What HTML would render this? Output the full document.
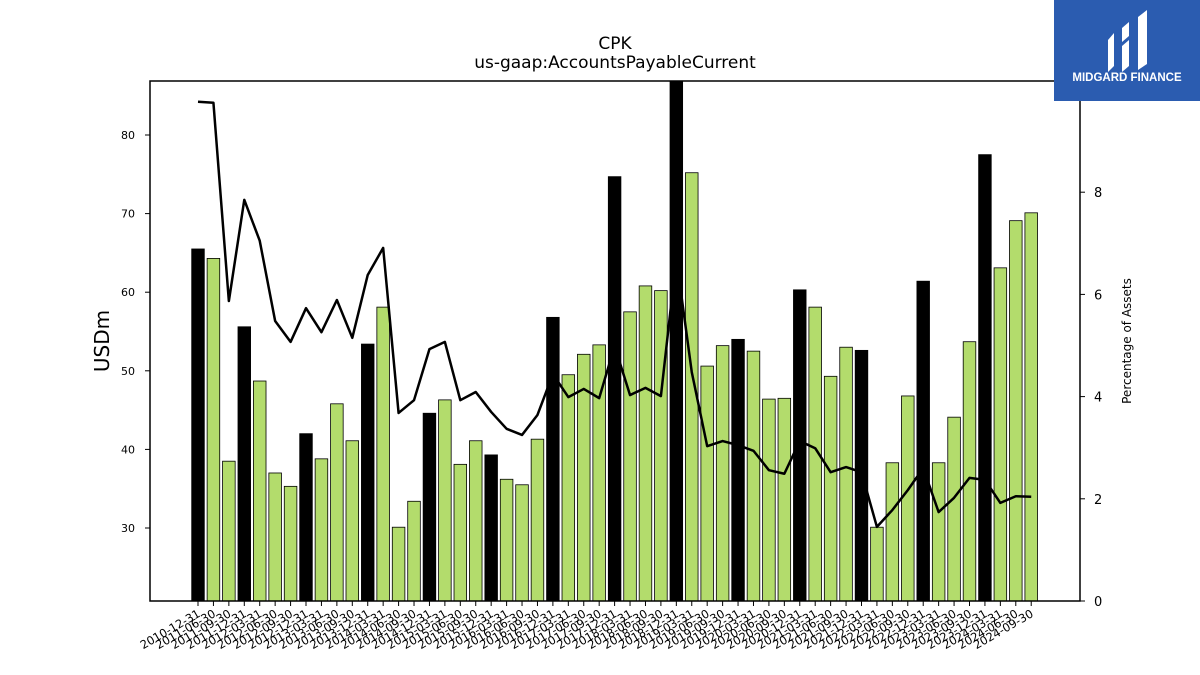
<!DOCTYPE html>
<html><head><meta charset="utf-8"><style>
body{margin:0;background:#fff;}
svg{display:block;font-family:"DejaVu Sans","Liberation Sans",sans-serif;}
</style></head><body>
<svg id="chart" width="1200" height="675" viewBox="0 0 1200 675" xmlns="http://www.w3.org/2000/svg">
<rect width="1200" height="675" fill="#fff"/>
<text x="615" y="49" font-size="17" text-anchor="middle">CPK</text>
<text x="615" y="68" font-size="17" text-anchor="middle">us-gaap:AccountsPayableCurrent</text>
<g id="bars"></g>
<g id="line"></g>
<rect x="150" y="81" width="930" height="520" fill="none" stroke="#000" stroke-width="1.5"/>
<g id="yl"></g>
<g id="yr"></g>
<g id="xa"></g>
<text transform="translate(109,341) rotate(-90)" font-size="20" text-anchor="middle">USDm</text>
<text transform="translate(1131,341) rotate(-90)" font-size="12" text-anchor="middle">Percentage of Assets</text>
<g>
<rect x="1054" y="0" width="146" height="101" fill="#2b5cb0"/>
<path d="M1108 40 L1114 33 L1114 66 L1108 72 Z M1122 28 L1129 22 L1129 36 L1122 42 Z M1122 46 L1129 40 L1129 66 L1122 72 Z M1138 17 L1147 10 L1147 64 L1138 70 Z" fill="#fff"/>
<text x="1127" y="81" font-size="11.5" font-weight="bold" fill="#fff" text-anchor="middle" font-family="Liberation Sans, sans-serif">MIDGARD FINANCE</text>
</g>
</svg>
<script>
const categories=["2010-12-31","2011-06-30","2011-09-30","2011-12-31","2012-03-31","2012-06-30","2012-09-30","2012-12-31","2013-03-31","2013-06-30","2013-09-30","2013-12-31","2014-03-31","2014-06-30","2014-09-30","2014-12-31","2015-03-31","2015-06-30","2015-09-30","2015-12-31","2016-03-31","2016-06-30","2016-09-30","2016-12-31","2017-03-31","2017-06-30","2017-09-30","2017-12-31","2018-03-31","2018-06-30","2018-09-30","2018-12-31","2019-03-31","2019-06-30","2019-09-30","2019-12-31","2020-03-31","2020-06-30","2020-09-30","2020-12-31","2021-03-31","2021-06-30","2021-09-30","2021-12-31","2022-03-31","2022-06-30","2022-09-30","2022-12-31","2023-03-31","2023-06-30","2023-09-30","2023-12-31","2024-03-31","2024-06-30","2024-09-30"];
const payables=[65.5,64.3,38.5,55.6,48.7,37.0,35.3,42.0,38.8,45.8,41.1,53.4,58.1,30.1,33.4,44.6,46.3,38.1,41.1,39.3,36.2,35.5,41.3,56.8,49.5,52.1,53.3,74.7,57.5,60.8,60.2,88.0,75.2,50.6,53.2,54.0,52.5,46.4,46.5,60.3,58.1,49.3,53.0,52.6,30.1,38.3,46.8,61.4,38.3,44.1,53.7,77.5,63.1,69.1,70.1];
const pctAssets=[9.77,9.75,5.87,7.85,7.05,5.48,5.07,5.73,5.26,5.89,5.15,6.38,6.91,3.68,3.93,4.93,5.07,3.93,4.09,3.70,3.37,3.25,3.64,4.44,3.99,4.15,3.97,4.99,4.03,4.17,4.01,6.71,4.48,3.03,3.13,3.05,2.94,2.56,2.49,3.13,2.99,2.52,2.62,2.52,1.45,1.78,2.17,2.60,1.74,2.02,2.41,2.37,1.92,2.05,2.04];
const leftTicks=[30,40,50,60,70,80];
const rightTicks=[0,2,4,6,8];
const NS="http://www.w3.org/2000/svg";
const top0=81,bot=601;
const yL=v=>528-(v-30)*7.86;
const yR=v=>601-v*51.1;
const xS=i=>198+i*15.43;
function mk(t,a,p){const e=document.createElementNS(NS,t);for(const k in a)e.setAttribute(k,a[k]);p.appendChild(e);return e;}
const bars=document.getElementById('bars');
payables.forEach((v,i)=>{
  const y=Math.max(yL(v),top0);
  const r=mk('rect',{x:xS(i)-6.3,y:y,width:12.6,height:bot-y,fill:(i%4===3||i===0)?'#000':'#b3dc6c',stroke:'#000','stroke-width':0.8},bars);
  
  
});
const line=document.getElementById('line');
const pl=mk('polyline',{points:pctAssets.map((v,i)=>xS(i)+','+yR(v)).join(' '),fill:'none',stroke:'#000','stroke-width':2.5,'stroke-linejoin':'round'},line);


const yl=document.getElementById('yl');
leftTicks.forEach(t=>{
  mk('line',{x1:145,x2:150,y1:yL(t),y2:yL(t),stroke:'#000'},yl);
  const tx=mk('text',{x:135,y:yL(t)+4,'font-size':11,'text-anchor':'end'},yl);tx.textContent=t;
  
  
});
const yr=document.getElementById('yr');
rightTicks.forEach(t=>{
  mk('line',{x1:1080,x2:1085,y1:yR(t),y2:yR(t),stroke:'#000'},yr);
  const tx=mk('text',{x:1094,y:yR(t)+5,'font-size':13},yr);tx.textContent=t;
  
  
});
const xa=document.getElementById('xa');
categories.forEach((c,i)=>{
  const x=xS(i);
  mk('line',{x1:x,x2:x,y1:601,y2:606,stroke:'#000'},xa);
  const tx=mk('text',{transform:`translate(${x+3},${616}) rotate(-30)`,'font-size':11.5,'text-anchor':'end'},xa);tx.textContent=c;
  
  
});
</script>
</body></html>
